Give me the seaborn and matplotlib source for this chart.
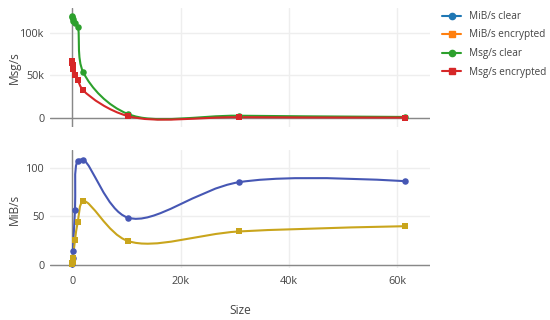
import numpy as np
import pandas as pd
import matplotlib
matplotlib.use("Agg")
import matplotlib.pyplot as plt
from matplotlib.path import Path
from matplotlib.patches import PathPatch
from matplotlib.lines import Line2D
from matplotlib.ticker import FuncFormatter
import seaborn as sns

# Message sizes (bytes) and measured throughput
sizes = [16, 32, 64, 128, 512, 1024, 2048, 10240, 30720, 61440]
msg_clear = [118000, 120000, 116000, 114000, 112000, 107000, 53500, 5000, 2900, 1470]
msg_enc = [67000, 65000, 62000, 58000, 51000, 44500, 32500, 2550, 1180, 680]
mib_clear = [1.8, 3.7, 7.1, 14.5, 56.8, 106.8, 107.8, 48.8, 85.0, 86.1]
mib_enc = [1.0, 2.0, 3.8, 7.1, 25.8, 44.5, 65.5, 24.9, 34.6, 40.0]

x_ticks = [0, 20000, 40000, 60000]
top_ticks = [0, 50000, 100000]
bottom_ticks = [0, 50, 100]

TEXT = "#444444"
sns.set_theme(style="white")
plt.rcParams["font.family"] = ["Open Sans", "DejaVu Sans"]


def kfmt(v, _):
    return "0" if v == 0 else f"{v / 1000:g}k"


def spline_path(ax, xs, ys, smooth=1.0):
    # plotly-style smooth line: Catmull-Rom tangents in pixel space
    pts = ax.transData.transform(np.column_stack([xs, ys]))
    n = len(pts)
    tang = []
    for i in range(1, n - 1):
        d1 = pts[i - 1] - pts[i]
        d2 = pts[i + 1] - pts[i]
        d1a = np.hypot(*d1) ** 0.5
        d2a = np.hypot(*d2) ** 0.5
        num = (d2a * d2a * d1 - d1a * d1a * d2) * smooth
        den1 = 3 * d2a * (d1a + d2a)
        den2 = 3 * d1a * (d1a + d2a)
        tang.append((pts[i] + num / den1, pts[i] - num / den2))
    verts = [pts[0], tang[0][0], pts[1]]
    codes = [Path.MOVETO, Path.CURVE3, Path.CURVE3]
    for i in range(2, n - 1):
        verts += [tang[i - 2][1], tang[i - 1][0], pts[i]]
        codes += [Path.CURVE4] * 3
    verts += [tang[n - 3][1], pts[n - 1]]
    codes += [Path.CURVE3] * 2
    verts = ax.transData.inverted().transform(np.array(verts))
    return Path(verts, codes)


fig = plt.figure(figsize=(5.5, 3.2), dpi=100)
ax_top = fig.add_axes([50 / 550, 1 - 127 / 320, 380 / 550, 119 / 320])
ax_bot = fig.add_axes([50 / 550, 1 - 268 / 320, 380 / 550, 118 / 320])

ax_top.set_xlim(-4100, 66000)
ax_top.set_ylim(-10300, 129000)
ax_bot.set_xlim(-4100, 66000)
ax_bot.set_ylim(-2.8, 118)

series = [
    (ax_top, msg_clear, "#2ca02c", "o"),
    (ax_top, msg_enc, "#d62728", "s"),
    (ax_bot, mib_clear, "#4657b4", "o"),
    (ax_bot, mib_enc, "#c9a51c", "s"),
]

for ax in (ax_top, ax_bot):
    for s in ax.spines.values():
        s.set_visible(False)
    ax.set_xticks(x_ticks)
    ax.grid(True, color="#eeeeee", linewidth=1)
    ax.axhline(0, color="#888888", linewidth=1, zorder=1)
    ax.axvline(0, color="#888888", linewidth=1, zorder=1)
    ax.tick_params(colors=TEXT, labelsize=7.8, length=0, pad=4)

ax_top.set_yticks(top_ticks)
ax_top.yaxis.set_major_formatter(FuncFormatter(kfmt))
ax_top.tick_params(axis="x", labelbottom=False)
ax_bot.set_yticks(bottom_ticks)
ax_bot.xaxis.set_major_formatter(FuncFormatter(kfmt))
ax_bot.tick_params(axis="x", pad=6)

for ax, vals, color, marker in series:
    path = spline_path(ax, sizes, vals)
    ax.add_patch(PathPatch(path, facecolor="none", edgecolor=color, linewidth=1.5, zorder=2))
    df = pd.DataFrame({"size": sizes, "val": vals})
    sns.scatterplot(data=df, x="size", y="val", ax=ax, color=color, marker=marker,
                    s=22, linewidth=0, zorder=3)
    ax.set_xlabel("")
    ax.set_ylabel("")

fig.text(14 / 550, 1 - 67.5 / 320, "Msg/s", rotation=90, ha="center", va="center",
         color=TEXT, fontsize=8.6)
fig.text(14 / 550, 1 - 209 / 320, "MiB/s", rotation=90, ha="center", va="center",
         color=TEXT, fontsize=8.6)
fig.text(240 / 550, 1 - 311 / 320, "Size", ha="center", va="center",
         color=TEXT, fontsize=8.6)

handles = [
    Line2D([], [], color="#1f77b4", marker="o", markersize=4.5, linewidth=1.5),
    Line2D([], [], color="#ff7f0e", marker="s", markersize=4.5, linewidth=1.5),
    Line2D([], [], color="#2ca02c", marker="o", markersize=4.5, linewidth=1.5),
    Line2D([], [], color="#d62728", marker="s", markersize=4.5, linewidth=1.5),
]
labels = ["MiB/s clear", "MiB/s encrypted", "Msg/s clear", "Msg/s encrypted"]
leg = fig.legend(handles, labels, loc="upper left", bbox_to_anchor=(440 / 550, 1 - 9 / 320),
                 frameon=False, fontsize=7.2, handlelength=1.9, handletextpad=0.8,
                 labelspacing=0.75, borderaxespad=0, borderpad=0.2)
for t in leg.get_texts():
    t.set_color(TEXT)

fig.savefig("out.png", dpi=100)
